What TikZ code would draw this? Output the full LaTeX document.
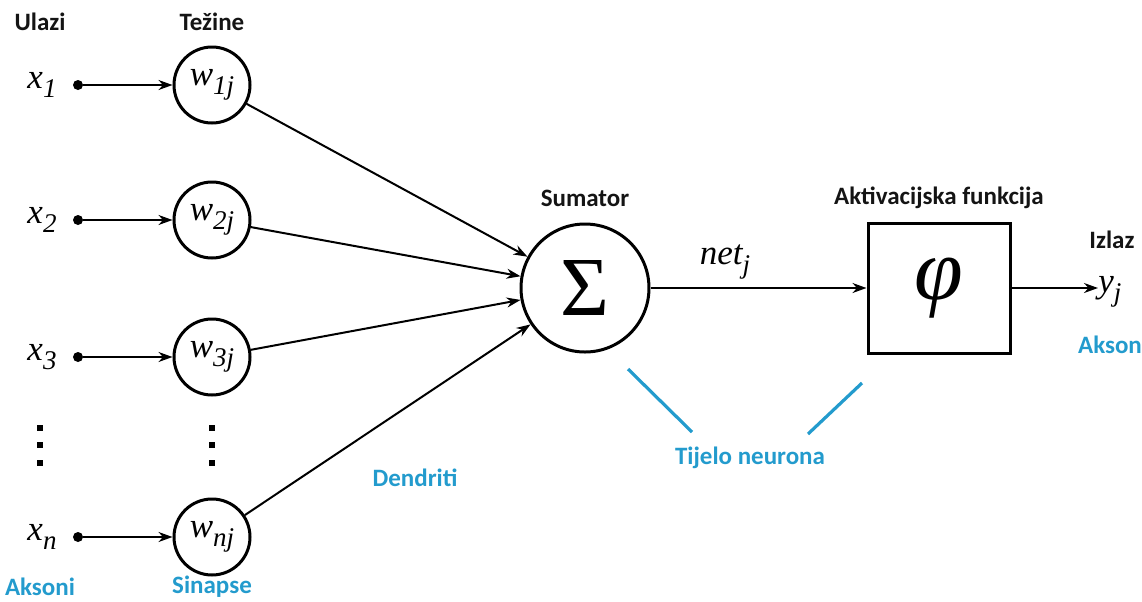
\documentclass[tikz,border=0pt]{standalone}
\usepackage{fontspec}
\usepackage{graphicx}
\setmainfont{Carlito}
\newfontfamily\serif{Liberation Serif}
\usetikzlibrary{arrows.meta, positioning}
\definecolor{neuronblue}{RGB}{35, 155, 205}
\definecolor{darktext}{RGB}{20, 20, 20}
\newcommand{\ivar}[2]{{\serif\itshape #1\raisebox{-0.6ex}{\fontsize{13.5}{14}\selectfont #2}}}

\begin{document}
\begin{tikzpicture}[
	x=0.5pt, y=-0.5pt,
	% label styles
	toplabel/.style={
			font=\fontsize{12.5}{14}\selectfont\bfseries,
			text=darktext,
			inner sep=0pt
		},
	bluelabel/.style={
			font=\fontsize{12.5}{14}\selectfont\bfseries,
			text=neuronblue,
			inner sep=0pt
		},
	varlabel/.style={
			font=\fontsize{17.5}{19}\selectfont,
			inner sep=0pt
		},
	% node styles
	inputdot/.style={
			circle,
			fill=black,
			minimum size=5pt,
			inner sep=0pt
		},
	weight/.style={
			circle,
			draw=black,
			line width=1.5pt,
			minimum size=38pt,
			inner sep=0pt,
			font=\fontsize{17.5}{19}\selectfont
		},
	summer/.style={
			circle,
			draw=black,
			line width=1.5pt,
			minimum size=64pt,
			inner sep=0pt,
			font=\serif\fontsize{42}{42}\selectfont
		},
	actbox/.style={
			rectangle,
			draw=black,
			line width=1.5pt,
			minimum width=71pt,
			minimum height=65pt,
			inner sep=0pt,
			font=\serif\itshape\fontsize{44}{44}\selectfont
		},
	vdot/.style={
			rectangle,
			fill=black,
			minimum size=3pt,
			inner sep=0pt
		},
	arrow/.style={
	-{Stealth[length=7pt, width=5pt]},
	line width=1pt,
	color=black
	},
	bodyline/.style={
	line width=1.6pt,
	color=neuronblue
	}
	]
	\useasboundingbox (0,0) rectangle (1142,601);

	% Column headings
	\node[toplabel] (ulazi) at (40,22) {Ulazi};
	\node[toplabel] (tezine) at (212,22) {Težine};

	% Inputs
	\node[varlabel] (x1) at (42,85) {\ivar{x}{1}};
	\node[varlabel] (x2) at (42,220) {\ivar{x}{2}};
	\node[varlabel] (x3) at (42,357) {\ivar{x}{3}};
	\node[varlabel] (xn) at (42,537) {\ivar{x}{n}};

	\node[inputdot] (d1) at (78,85) {};
	\node[inputdot] (d2) at (78,220) {};
	\node[inputdot] (d3) at (78,357) {};
	\node[inputdot] (dn) at (78,537) {};

	% Weights
	\node[weight] (w1) at (212,85) {\ivar{w}{1j}};
	\node[weight] (w2) at (212,220) {\ivar{w}{2j}};
	\node[weight] (w3) at (212,357) {\ivar{w}{3j}};
	\node[weight] (wn) at (212,537) {\ivar{w}{nj}};

	% Vertical dots
	\node[vdot] (vx1) at (40,428) {};
	\node[vdot] (vx2) at (40,445) {};
	\node[vdot] (vx3) at (40,463) {};
	\node[vdot] (vw1) at (212,428) {};
	\node[vdot] (vw2) at (212,445) {};
	\node[vdot] (vw3) at (212,463) {};

	% Summation and activation
	\node[summer] (sum) at (585,288) {Σ};
	\node[toplabel] (sumator) at (585,198) {Sumator};
	\node[varlabel] (net) at (725,262) {\ivar{net}{j}};
	\node[actbox] (phi) at (939,288) {φ};
	\node[toplabel] (aktiv) at (939,198) {Aktivacijska funkcija};

	% Output
	\node[varlabel, anchor=west] (y) at (1098,292) {\ivar{y}{j}};
	\node[toplabel] (izlaz) at (1112,240) {Izlaz};
	\node[bluelabel] (akson) at (1110,345) {Akson};

	% Blue annotations
	\node[bluelabel] (aksoni) at (40,587) {Aksoni};
	\node[bluelabel] (sinapse) at (212,587) {Sinapse};
	\node[bluelabel] (dendriti) at (415,478) {Dendriti};
	\node[bluelabel] (tijelo) at (750,458) {Tijelo neurona};
	\draw[bodyline] (628,369) -- (692,432);
	\draw[bodyline] (808,434) -- (862,383);

	% Input arrows
	\draw[arrow] (d1) -- (w1);
	\draw[arrow] (d2) -- (w2);
	\draw[arrow] (d3) -- (w3);
	\draw[arrow] (dn) -- (wn);

	% Dendrites
	\draw[arrow] (w1) -- (sum);
	\draw[arrow] (w2) -- (sum);
	\draw[arrow] (w3) -- (sum);
	\draw[arrow] (wn) -- (sum);

	% Body and axon
	\draw[arrow] (sum) -- (phi);
	\draw[arrow] (phi.east) -- (phi.east -| y.west);

\end{tikzpicture}
\end{document}
